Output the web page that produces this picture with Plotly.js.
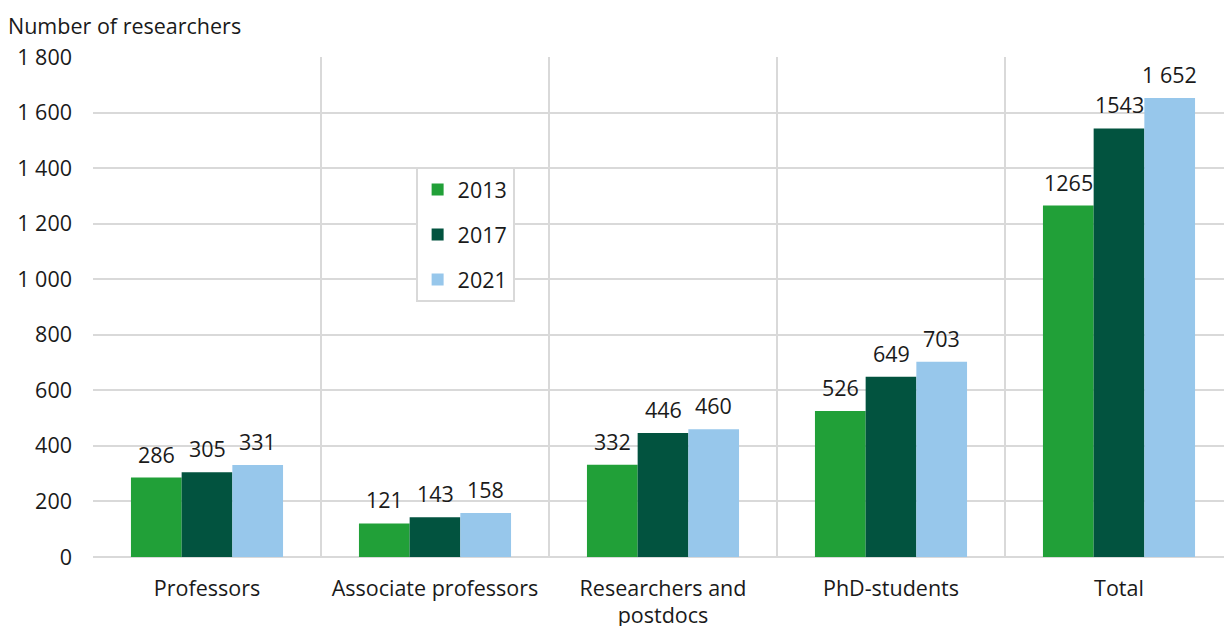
<!DOCTYPE html>
<html><head><meta charset="utf-8">
<script src="https://cdn.plot.ly/plotly-3.0.1.min.js"></script>
<style>html,body{margin:0;padding:0;overflow:hidden;background:#fff}#chart{width:1233px;height:626px}</style>
</head><body><div id="chart"></div>
<script>
const categories = ["Professors", "Associate professors", "Researchers and<br>postdocs", "PhD-students", "Total"];
const years = ["2013", "2017", "2021"];
const values2013 = [286, 121, 332, 526, 1265];
const values2017 = [305, 143, 446, 649, 1543];
const values2021 = [331, 158, 460, 703, 1652];
const labels2013 = ["286", "121", "332", "526", "1265"];
const labels2017 = ["305", "143", "446", "649", "1543"];
const labels2021 = ["331", "158", "460", "703", "1 652"];
const colors = ["#21A038", "#02533F", "#97C7EB"];

const series = [values2013, values2017, values2021];
const labels = [labels2013, labels2017, labels2021];
const font = {family: "Open Sans, Noto Sans, sans-serif", size: 21.5, color: "#1a1a1a"};

const traces = series.map((v, i) => ({
  type: "bar", name: years[i], x: categories, y: v,
  marker: {color: colors[i], line: {width: 0}},
  legendgroup: "g" + i, hoverinfo: "skip"
}));

const bargap = 0.333;
const plotW = 1140, nCat = categories.length;
const barPx = plotW / nCat * (1 - bargap) / series.length;

const annotations = [{text: "Number of researchers", xref: "paper", yref: "paper",
  x: -0.076, y: 1.062, xanchor: "left", yanchor: "middle", showarrow: false, font: font}];
series.forEach((v, i) => {
  v.forEach((val, j) => {
    annotations.push({x: categories[j], y: val, xref: "x", yref: "y",
      text: labels[i][j], showarrow: false, xanchor: "center", yanchor: "bottom",
      xshift: (i - 1) * barPx, yshift: 7, font: font});
  });
});

const layout = {
  width: 1233, height: 626,
  margin: {l: 93, r: 0, t: 57, b: 69},
  paper_bgcolor: "#fff", plot_bgcolor: "#fff",
  font: font,
  separators: ". ",
  barmode: "group", bargap: bargap, bargroupgap: 0,
  showlegend: true,
  legend: {x: 0.283, y: 0.78, xanchor: "left", yanchor: "top",
    bgcolor: "#fff", bordercolor: "#d9d9d9", borderwidth: 2,
    traceorder: "grouped", tracegroupgap: 14, font: font},
  xaxis: {type: "category", tickson: "boundaries", showgrid: true,
    gridcolor: "#d9d9d9", gridwidth: 2, ticks: "", ticklabelstandoff: 16,
    showline: false, zeroline: false, tickfont: font},
  yaxis: {range: [0, 1800], dtick: 200, tick0: 0, showgrid: true,
    gridcolor: "#d9d9d9", gridwidth: 2, zeroline: true, zerolinecolor: "#d9d9d9",
    zerolinewidth: 2, ticks: "", ticklabelstandoff: 20, tickfont: font,
    tickformat: ",d", showline: false},
  annotations: annotations
};

Plotly.newPlot("chart", traces, layout, {displayModeBar: false, staticPlot: true});
</script></body></html>
